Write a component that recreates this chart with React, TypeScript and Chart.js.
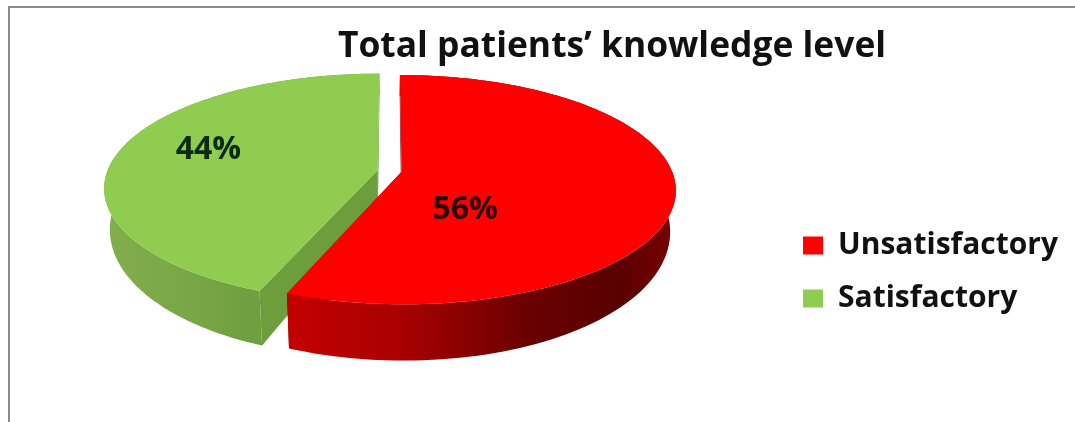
import React, { useEffect, useRef } from "react";
import { Chart, registerables } from "chart.js";

Chart.register(...registerables);

const categories = ["Unsatisfactory", "Satisfactory"];
const shares = [56, 44];
const topColors = ["#ff0000", "#8fcc4f"];
const cutColors = ["#8a0000", "#6c9e3e"];
const labelColors = ["#2a0404", "#0b2a12"];
// Label spots on the pie's disc, in radius units (right, back).
const labelSpots = [
  [0.265, -0.335],
  [-0.69, 0.19],
];
const titleText = "Total patients\u2019 knowledge level";

const FONT = "'Open Sans', sans-serif";

// Camera used to tilt the flat pie; all lengths are in units of the arc radius.
const VIEW = {
  rx: 1.73,
  ry: 0.714,
  perspective: 0.156,
  lift: 0.585,
  nudge: -0.025,
  depthMid: 0.246,
  depthSlope: 0.113,
  floorShrink: 0.98,
};

type Pt = { x: number; y: number };

function makeCamera(arc: any) {
  const R = arc.outerRadius;
  const cx = arc.x + VIEW.nudge * R;
  const cy = arc.y - VIEW.lift * R;
  const top = (u: number, v: number): Pt => {
    const s = 1 / (1 + VIEW.perspective * v);
    return { x: cx + VIEW.rx * R * u * s, y: cy - VIEW.ry * R * v * s };
  };
  const floor = (u: number, v: number): Pt => {
    const p = top(u, v);
    return {
      x: cx + (p.x - cx) * VIEW.floorShrink,
      y: p.y + (VIEW.depthMid - VIEW.depthSlope * v) * R,
    };
  };
  return { top, floor, R };
}

function fillPath(ctx: CanvasRenderingContext2D, pts: Pt[], fill: string | CanvasGradient) {
  ctx.beginPath();
  pts.forEach((p, i) => (i ? ctx.lineTo(p.x, p.y) : ctx.moveTo(p.x, p.y)));
  ctx.closePath();
  ctx.fillStyle = fill;
  ctx.fill();
}

const tiltedPie = {
  id: "tiltedPie",
  afterLayout(chart: any) {
    // Title sits centred over the right-hand part of the frame; the legend sits low.
    chart.titleBlock.left = 149;
    chart.legend.top += 61;
    chart.legend.bottom += 61;
    chart.legend.left -= 7;
    chart.legend.right -= 7;
  },
  beforeDatasetsDraw(chart: any) {
    const ctx: CanvasRenderingContext2D = chart.ctx;
    const arcs = chart.getDatasetMeta(0).data;
    // Far slice first so the nearer one overlaps it.
    const order = arcs.map((_: any, i: number) => i).reverse();
    order.forEach((i: number) => {
      const arc = arcs[i];
      const cam = makeCamera(arc);
      const burst = arc.options.offset / cam.R;
      const mid = (arc.startAngle + arc.endAngle) / 2;
      const ox = Math.cos(mid) * burst;
      const oy = -Math.sin(mid) * burst;
      const rim: [number, number][] = [];
      const steps = 120;
      for (let k = 0; k <= steps; k++) {
        const a = arc.startAngle + ((arc.endAngle - arc.startAngle) * k) / steps;
        rim.push([Math.cos(a) + ox, -Math.sin(a) + oy]);
      }
      const topRim = rim.map(([u, v]) => cam.top(u, v));
      const floorRim = rim.map(([u, v]) => cam.floor(u, v));
      const xs = topRim.map((p) => p.x);
      const minX = Math.min(...xs);
      const maxX = Math.max(...xs);
      const wall = ctx.createLinearGradient(minX, 0, maxX, 0);
      if (i === 0) {
        wall.addColorStop(0, "#c40000");
        wall.addColorStop(0.3, "#a80000");
        wall.addColorStop(0.62, "#6a0000");
        wall.addColorStop(0.85, "#580000");
        wall.addColorStop(1, "#7a0000");
      } else {
        wall.addColorStop(0, "#82ae4c");
        wall.addColorStop(0.35, "#78a645");
        wall.addColorStop(0.5, "#6f9f40");
        wall.addColorStop(1, "#6c9e3e");
      }
      const apexTop = cam.top(ox, oy);
      const apexFloor = cam.floor(ox, oy);
      // Radial cut faces, then the outer wall, then the top of the slice.
      [0, rim.length - 1].forEach((k) => {
        fillPath(ctx, [apexTop, topRim[k], floorRim[k], apexFloor], cutColors[i]);
      });
      fillPath(ctx, [...topRim, ...floorRim.slice().reverse()], wall);
      fillPath(ctx, [apexTop, ...topRim], topColors[i]);
    });
    // Percent labels.
    ctx.font = `bold 32px ${FONT}`;
    ctx.textAlign = "center";
    ctx.textBaseline = "middle";
    arcs.forEach((arc: any, i: number) => {
      const cam = makeCamera(arc);
      const p = cam.top(labelSpots[i][0], labelSpots[i][1]);
      ctx.fillStyle = labelColors[i];
      ctx.fillText(`${shares[i]}%`, p.x, p.y);
    });
    return false;
  },
};

export default function App() {
  const ref = useRef<HTMLCanvasElement>(null);
  useEffect(() => {
    const chart = new Chart(ref.current as HTMLCanvasElement, {
      type: "pie",
      data: {
        labels: categories,
        datasets: [
          {
            data: shares,
            backgroundColor: topColors,
            borderWidth: 0,
            offset: 7,
          },
        ],
      },
      options: {
        responsive: false,
        animation: false,
        devicePixelRatio: 1,
        plugins: {
          tooltip: { enabled: false },
          title: {
            display: true,
            text: titleText,
            color: "#111111",
            font: { family: FONT, size: 35.4, weight: "bold" },
            padding: { top: 26, bottom: 34 },
          },
          legend: {
            position: "right",
            labels: {
              color: "#111111",
              font: { family: FONT, size: 30, weight: "bold" },
              boxWidth: 20,
              boxHeight: 18,
              padding: 23,
            },
          },
        },
      },
      plugins: [tiltedPie],
    } as any);
    return () => chart.destroy();
  }, []);
  return (
    <div style={{ position: "fixed", left: 0, top: 0, width: 1075, height: 422, background: "#fff", overflow: "hidden" }}>
      <canvas ref={ref} width={1075} height={422} style={{ display: "block" }} />
      <div
        style={{
          position: "absolute",
          left: 8,
          top: 6,
          right: -4,
          bottom: -4,
          borderLeft: "2px solid #8a8a8a",
          borderTop: "2px solid #8a8a8a",
          pointerEvents: "none",
        }}
      />
    </div>
  );
}
